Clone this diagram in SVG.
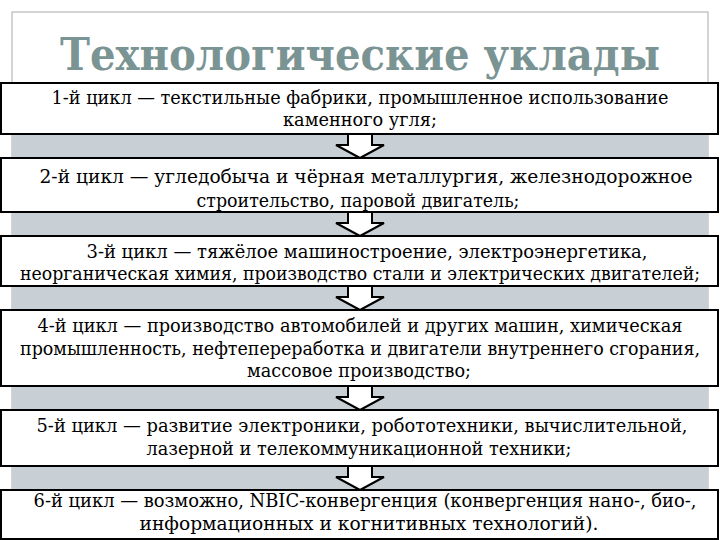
<svg xmlns="http://www.w3.org/2000/svg" width="720" height="540" viewBox="0 0 720 540">
<style>
.box{fill:#fff;stroke:#000;stroke-width:2}
.t{font-family:"DejaVu Serif","Liberation Serif",serif;font-size:18px;fill:#000;text-anchor:middle}
.ar{fill:#fff;stroke:#000;stroke-width:2;stroke-linejoin:miter}
</style>
<defs>
<path id="arr" d="M-12,0 H12 V11 H24 L0,24 L-24,11 H-12 Z"/>
</defs>
<rect width="720" height="540" fill="#fff"/>
<rect x="12" y="12" width="696" height="540" fill="#fff" stroke="#aaa" stroke-width="1"/>
<rect x="12" y="134" width="696" height="406" fill="#c8d0d6"/>
<text x="360" y="70" font-family="DejaVu Serif,Liberation Serif,serif" font-weight="bold" font-size="44" fill="#7a9494" text-anchor="middle" textLength="600" lengthAdjust="spacingAndGlyphs">Технологические уклады</text>
<g id="connectors">
<use href="#arr" x="360" y="134" class="ar"/>
<use href="#arr" x="360" y="212" class="ar"/>
<use href="#arr" x="360" y="286" class="ar"/>
<use href="#arr" x="360" y="386" class="ar"/>
<use href="#arr" x="360" y="466" class="ar"/>
</g>
<g id="n1"><rect class="box" x="1" y="83" width="717" height="51"/>
<text class="t" x="360" y="104" textLength="617" lengthAdjust="spacingAndGlyphs">1-й цикл — текстильные фабрики, промышленное использование</text>
<text class="t" x="360" y="126" textLength="154" lengthAdjust="spacingAndGlyphs">каменного угля;</text></g>
<g id="n2"><rect class="box" x="1" y="158" width="717" height="54"/>
<text class="t" x="366" y="183" textLength="653" lengthAdjust="spacingAndGlyphs">2-й цикл — угледобыча и чёрная металлургия, железнодорожное</text>
<text class="t" x="358" y="207" textLength="323" lengthAdjust="spacingAndGlyphs">строительство, паровой двигатель;</text></g>
<g id="n3"><rect class="box" x="1" y="236" width="717" height="50"/>
<text class="t" x="367" y="258" textLength="561" lengthAdjust="spacingAndGlyphs">3-й цикл — тяжёлое машиностроение, электроэнергетика,</text>
<text class="t" x="360" y="280" textLength="680" lengthAdjust="spacingAndGlyphs">неорганическая химия, производство стали и электрических двигателей;</text></g>
<g id="n4"><rect class="box" x="1" y="310" width="717" height="76"/>
<text class="t" x="360" y="332" textLength="645" lengthAdjust="spacingAndGlyphs">4-й цикл — производство автомобилей и других машин, химическая</text>
<text class="t" x="360" y="355" textLength="680" lengthAdjust="spacingAndGlyphs">промышленность, нефтепереработка и двигатели внутреннего сгорания,</text>
<text class="t" x="359" y="377" textLength="224" lengthAdjust="spacingAndGlyphs">массовое производство;</text></g>
<g id="n5"><rect class="box" x="1" y="410" width="717" height="56"/>
<text class="t" x="362" y="432" textLength="651" lengthAdjust="spacingAndGlyphs">5-й цикл — развитие электроники, робототехники, вычислительной,</text>
<text class="t" x="359" y="455" textLength="425" lengthAdjust="spacingAndGlyphs">лазерной и телекоммуникационной техники;</text></g>
<g id="n6"><rect class="box" x="1" y="490" width="717" height="49"/>
<text class="t" x="365" y="507" textLength="663" lengthAdjust="spacingAndGlyphs">6-й цикл — возможно, NBIC-конвергенция (конвергенция нано-, био-,</text>
<text class="t" x="369" y="530" textLength="459" lengthAdjust="spacingAndGlyphs">информационных и когнитивных технологий).</text></g>
</svg>
